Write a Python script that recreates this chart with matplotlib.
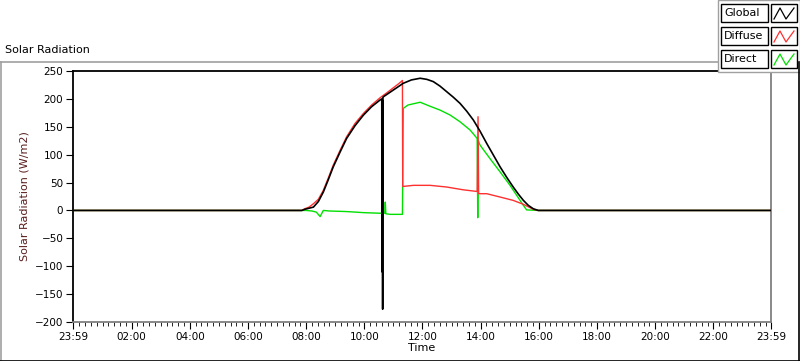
import matplotlib.pyplot as plt
from matplotlib.patches import Rectangle
from matplotlib.lines import Line2D

# time in hours (0 = 00:00); values in W/m2
g_time = [-0.017, 7.85, 7.95, 8.1, 8.25, 8.42, 8.59, 8.76, 8.93, 9.16, 9.39, 9.68, 9.97, 10.25, 10.54,
          10.60, 10.61, 10.62, 10.63, 10.64, 10.66, 11.0, 11.34, 11.62, 11.92, 12.15, 12.37, 12.6,
          12.83, 13.06, 13.29, 13.52, 13.75, 13.98, 14.21, 14.44, 14.67, 14.9, 15.12, 15.3, 15.47,
          15.64, 15.81, 15.98, 23.983]
g_val = [0, 0, 2, 4, 6, 16, 33, 55, 78, 104, 129, 152, 171, 186, 198,
         200, -110, 198, -177, 203, 204, 216, 228, 234, 237, 235, 231, 223,
         213, 203, 192, 178, 162, 142, 120, 99, 78, 59, 42, 29, 18,
         9, 3, 0, 0]

d_time = [-0.017, 7.85, 7.95, 8.1, 8.25, 8.42, 8.59, 8.76, 8.93, 9.16, 9.39, 9.68, 9.97, 10.25, 10.54,
          10.75, 11.0, 11.2, 11.31, 11.32, 11.69, 12.26, 12.83, 13.4, 13.88, 13.91, 13.93, 13.95,
          14.21, 14.67, 15.12, 15.47, 15.81, 15.98, 23.983]
d_val = [0, 0, 3, 6, 12, 20, 36, 58, 81, 107, 132, 156, 174, 189, 202,
         210, 220, 228, 233, 43, 45, 45, 42, 37, 34, 168, 30, 30,
         30, 24, 18, 11, 2, 0, 0]

r_time = [-0.017, 7.85, 8.0, 8.2, 8.35, 8.48, 8.59, 8.8, 9.39, 10.0, 10.54, 10.70, 10.72, 10.74,
          10.9, 11.31, 11.32, 11.34, 11.5, 11.92, 12.25, 12.6, 12.95, 13.29, 13.64, 13.88, 13.90,
          13.92, 13.98, 14.32, 14.67, 15.01, 15.24, 15.47, 15.58, 15.98, 23.983]
r_val = [0, 0, 0, -1, -3, -11, 0, -1, -2, -4, -5, -5, 15, -6,
         -7, -7, 57, 183, 189, 194, 187, 180, 171, 159, 144, 129, -13,
         125, 117, 93, 69, 45, 27, 9, 1, 0, 0]

x_ticks = [-0.017, 2, 4, 6, 8, 10, 12, 14, 16, 18, 20, 22, 23.983]
x_labels = ['23:59', '02:00', '04:00', '06:00', '08:00', '10:00', '12:00',
            '14:00', '16:00', '18:00', '20:00', '22:00', '23:59']
y_ticks = [-200, -150, -100, -50, 0, 50, 100, 150, 200, 250]

plt.rcParams['font.family'] = ['DejaVu Sans']
plt.rcParams['font.size'] = 8

fig = plt.figure(figsize=(8, 3.61), dpi=100)
ax = fig.add_axes([73 / 800, 1 - 322 / 361, 698 / 800, 251 / 361])

ax.plot(r_time, r_val, color='#00e000', lw=1.0, zorder=2)
ax.plot(d_time, d_val, color='#ff3030', lw=1.0, zorder=3)
ax.plot(g_time, g_val, color='black', lw=1.2, zorder=4)

ax.set_xlim(-0.017, 23.983)
ax.set_ylim(-200, 250)
ax.set_xticks(x_ticks)
ax.set_xticklabels(x_labels)
ax.set_xticks([i * 0.2 for i in range(1, 120)], minor=True)
ax.set_yticks(y_ticks)
ax.tick_params(axis='x', which='major', length=5, pad=2, direction='out', labelsize=7.5)
ax.tick_params(axis='x', which='minor', length=3, direction='out')
ax.tick_params(axis='y', length=5, pad=2, labelsize=7.5)

for s in ['left', 'top']:
    ax.spines[s].set_color('black')
    ax.spines[s].set_linewidth(1.3)
for s in ['right', 'bottom']:
    ax.spines[s].set_color('#808080')
    ax.spines[s].set_linewidth(1.3)

ax.set_xlabel('Time', labelpad=1)
ax.set_ylabel('Solar Radiation (W/m2)', color='#5a1e1e', labelpad=4)

# outer panel border
fig.add_artist(Line2D([0.5 / 800, 0.5 / 800], [0, 1 - 62 / 361], color='#a0a0a0', lw=1.2))
fig.add_artist(Line2D([0, 718 / 800], [1 - 62 / 361, 1 - 62 / 361], color='#a0a0a0', lw=1.2))
fig.add_artist(Line2D([798.5 / 800, 798.5 / 800], [0, 1 - 62 / 361], color='black', lw=1.2))
fig.add_artist(Line2D([0, 1], [0.5 / 361, 0.5 / 361], color='black', lw=1.2))
fig.text(5 / 800, 1 - 50 / 361, 'Solar Radiation', va='center', ha='left', fontsize=8)

# legend panel
fig.add_artist(Rectangle((718 / 800, 1 - 72 / 361), 82 / 800, 72 / 361,
                         facecolor='white', edgecolor='#a0a0a0', lw=1.0))
leg_names = ['Global', 'Diffuse', 'Direct']
leg_colors = ['black', '#ff3030', '#00e000']
for i, (n, c) in enumerate(zip(leg_names, leg_colors)):
    yc = 13 + i * 23
    fig.add_artist(Rectangle((721 / 800, 1 - (yc + 9) / 361), 47 / 800, 18 / 361,
                             facecolor='white', edgecolor='black', lw=1.0))
    fig.text(724 / 800, 1 - yc / 361, n, va='center', ha='left', fontsize=8)
    fig.add_artist(Rectangle((771 / 800, 1 - (yc + 9) / 361), 26 / 800, 18 / 361,
                             facecolor='white', edgecolor='black', lw=1.0))
    zx = [774, 780, 786, 794]
    zy = [yc + 6, yc - 5, yc + 6, yc - 5]
    fig.add_artist(Line2D([v / 800 for v in zx], [1 - v / 361 for v in zy], color=c, lw=0.9))

fig.savefig('out.png', dpi=100, facecolor='white')
